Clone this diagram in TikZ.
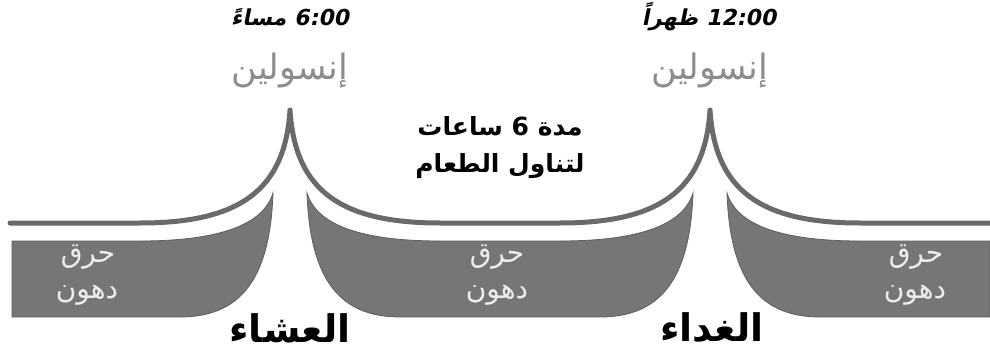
\documentclass[tikz,border=0pt]{standalone}
\usepackage{fontspec}
\TeXXeTstate=1
\newfontfamily\arb[Script=Arabic]{DejaVu Sans}
\newfontfamily\arbi[Script=Arabic,FakeSlant=0.2]{DejaVu Sans}
\definecolor{linegray}{HTML}{6A6A6A}
\definecolor{bandgray}{HTML}{767676}
\definecolor{bandedge}{HTML}{5E5E5E}
\definecolor{insgray}{HTML}{8C8C8C}
\definecolor{paletext}{HTML}{EDEDED}
\begin{document}
\begin{tikzpicture}[x=1pt,y=-1pt,
  curve/.style={draw=linegray,line width=5pt,line cap=round,line join=round},
  band/.style={fill=bandgray,draw=bandedge,line width=0.8pt},
  timelbl/.style={font=\arbi\bfseries\fontsize{22}{26}\selectfont,text=black,inner sep=0pt},
  inslbl/.style={font=\arb\fontsize{35}{40}\selectfont,text=insgray,inner sep=0pt},
  meallbl/.style={font=\arb\bfseries\fontsize{38}{42}\selectfont,text=black,inner sep=0pt},
  midlbl/.style={font=\arb\bfseries\fontsize{25}{29}\selectfont,text=black,inner sep=0pt},
  burnlbl/.style={font=\arb\fontsize{28}{32}\selectfont,text=paletext,inner sep=0pt}]
\useasboundingbox (0,0) rectangle (990,358);
% bands
\path[band] (12,241) -- (140,241) .. controls (230,241) and (265,220) .. (273,193)
  .. controls (270,280) and (240,317) .. (180,317) -- (12,317) -- cycle;
\path[band] (307,193) .. controls (315,220) and (350,241) .. (440,241) -- (560,241)
  .. controls (650,241) and (685,220) .. (693,193)
  .. controls (690,280) and (660,317) .. (600,317) -- (400,317)
  .. controls (340,317) and (310,280) .. (307,193) -- cycle;
\path[band] (727,193) .. controls (735,220) and (770,241) .. (860,241) -- (990,241)
  -- (990,317) -- (820,317) .. controls (760,317) and (730,280) .. (727,193) -- cycle;
% insulin curve
\path[curve] (10,223) -- (140,223) .. controls (240,223) and (285,190) .. (290,110)
  .. controls (295,190) and (340,223) .. (440,223) -- (560,223)
  .. controls (660,223) and (705,190) .. (710,110)
  .. controls (715,190) and (760,223) .. (860,223) -- (992,223);
% labels
\node[timelbl] (t1) at (290,17) {\beginR\beginL 6:00\endL{} مساءً\endR};
\node[timelbl] (t2) at (709,17) {\beginR\beginL 12:00\endL{} ظهراً\endR};
\node[inslbl] (i1) at (290,70) {\beginR إنسولين\endR};
\node[inslbl] (i2) at (710,70) {\beginR إنسولين\endR};
\node[midlbl] (m1) at (500,126) {\beginR مدة \beginL6\endL{} ساعات\endR};
\node[midlbl] (m2) at (500,166) {\beginR لتناول الطعام\endR};
\node[meallbl] (d1) at (290,328) {\beginR العشاء\endR};
\node[meallbl] (d2) at (712,328) {\beginR الغداء\endR};
\node[burnlbl] (b1) at (88,257) {\beginR حرق\endR};
\node[burnlbl] (c1) at (87,295) {\beginR دهون\endR};
\node[burnlbl] (b2) at (497,257) {\beginR حرق\endR};
\node[burnlbl] (c2) at (497,295) {\beginR دهون\endR};
\node[burnlbl] (b3) at (916,257) {\beginR حرق\endR};
\node[burnlbl] (c3) at (915,295) {\beginR دهون\endR};
\end{tikzpicture}
\end{document}
